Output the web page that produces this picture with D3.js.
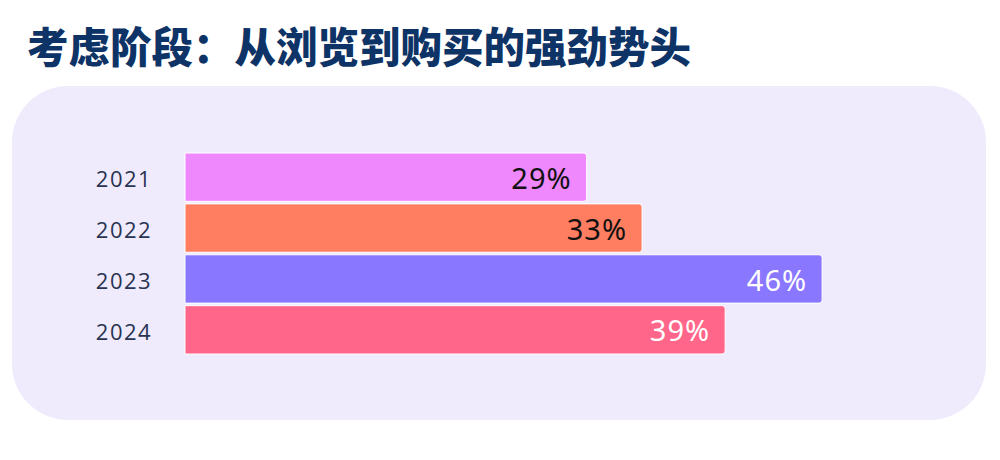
<!DOCTYPE html>
<html>
<head>
  <meta charset="UTF-8">
  <title>考虑阶段</title>
  <style>
    body { margin: 0; background: #fff; }
    .title {
        font-family: "Noto Sans CJK SC", sans-serif;
        font-weight: 900;
        fill: #0e3366;
    }
    .year {
        font-family: "Open Sans", sans-serif;
        font-size: 22px;
        letter-spacing: 1.5px;
        fill: #283352;
        text-anchor: middle;
    }
    .val {
        font-family: "Noto Sans", sans-serif;
        font-size: 29px;
        letter-spacing: 1px;
        text-anchor: end;
    }
  </style>
</head>
<body>
<svg></svg>
<script src="https://d3js.org/d3.v7.min.js"></script>
<script>

let width = 1000, height = 460;

// data
var years = ["2021", "2022", "2023", "2024"];
var shares = [29, 33, 46, 39];
var barColors = ["#ee88fc", "#ff7d60", "#8a77ff", "#ff6689"];
var labelColors = ["#111", "#111", "#fff", "#fff"];

let svg = d3.select("svg")
    .attr("width", width)
    .attr("height", height)
    .attr("viewBox", "0 0 " + width + " " + height);

// title
svg.append("text")
    .attr("class", "title")
    .attr("x", 27)
    .attr("y", 63)
    .style("font-size", "41.5px")
    .text("考虑阶段：从浏览到购买的强劲势头");

// panel behind the bars
svg.append("rect")
    .attr("x", 12)
    .attr("y", 86)
    .attr("width", 974)
    .attr("height", 334)
    .attr("rx", 56)
    .attr("fill", "#efebfd");

var x = d3.scaleLinear()
    .domain([0, 50])
    .range([185, 877.5]);

var y = d3.scaleBand()
    .domain(years)
    .range([153, 354])
    .paddingInner(0.05);

var r = 3;
function barPath(d, i) {
    // square left edge, small rounded right corners
    var x0 = x(0), x1 = x(d), y0 = y(years[i]), h = y.bandwidth();
    return "M" + x0 + "," + y0 +
        "H" + (x1 - r) + "Q" + x1 + "," + y0 + " " + x1 + "," + (y0 + r) +
        "V" + (y0 + h - r) + "Q" + x1 + "," + (y0 + h) + " " + (x1 - r) + "," + (y0 + h) +
        "H" + x0 + "Z";
}

svg.append("g")
    .selectAll("path")
    .data(shares)
    .enter()
    .append("path")
    .attr("d", barPath)
    .attr("fill", (d, i) => barColors[i])
    .attr("stroke", "#fff")
    .attr("stroke-width", 1);

svg.append("g")
    .selectAll("text")
    .data(years)
    .enter()
    .append("text")
    .attr("class", "year")
    .attr("x", 124)
    .attr("y", d => y(d) + y.bandwidth() / 2)
    .attr("dy", "0.45em")
    .text(d => d);

svg.append("g")
    .selectAll("text")
    .data(shares)
    .enter()
    .append("text")
    .attr("class", "val")
    .attr("x", d => x(d) - 15)
    .attr("y", (d, i) => y(years[i]) + y.bandwidth() / 2)
    .attr("dy", "0.4em")
    .attr("fill", (d, i) => labelColors[i])
    .text(d => d + "%");

</script>
</body>
</html>
